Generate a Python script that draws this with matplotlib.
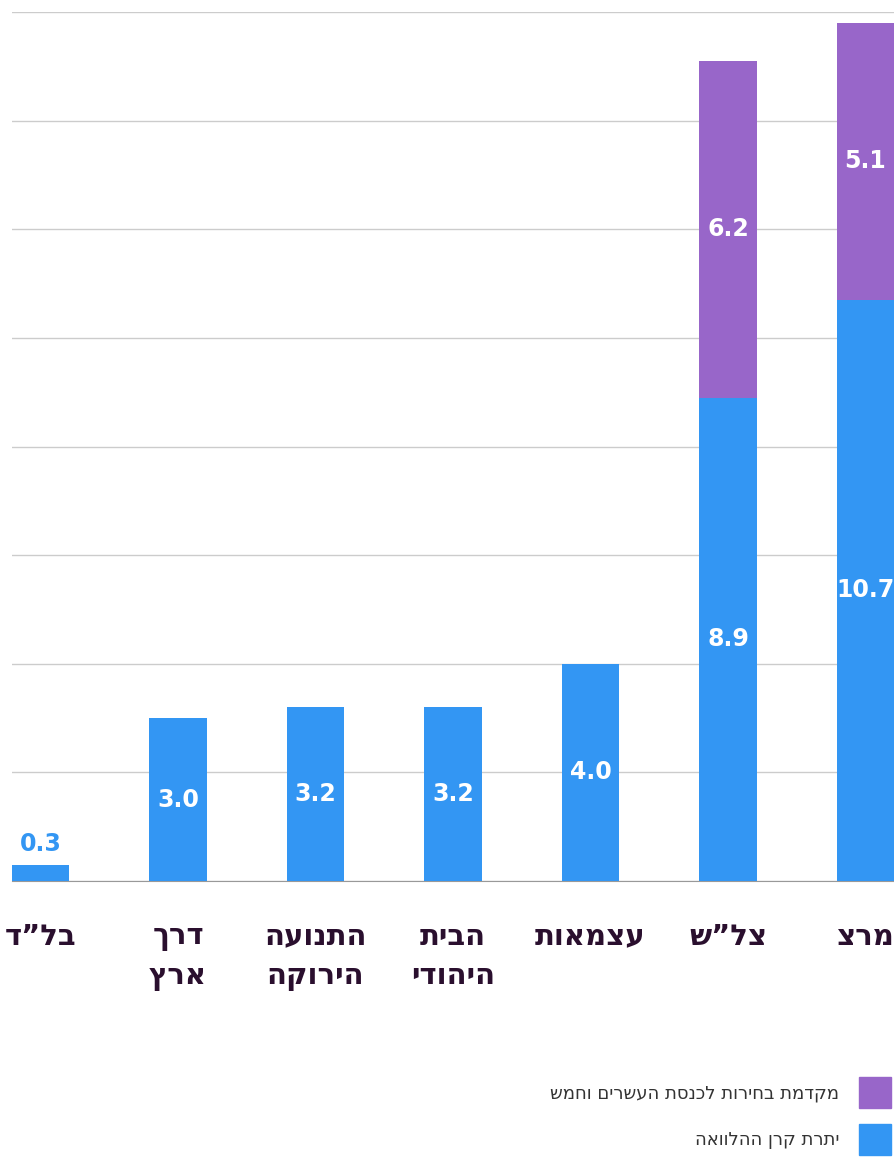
#!/usr/bin/env python3
import matplotlib
matplotlib.use("Agg")
import matplotlib.pyplot as plt
from matplotlib.patches import Patch
import numpy as np

# data (Hebrew, logical order; reversed for display since matplotlib has no bidi)
parties = ["בל”ד", "דרך\nארץ", "התנועה\nהירוקה", "הבית\nהיהודי", "עצמאות", "צל”ש", "מרצ"]
loan_balance = [0.3, 3.0, 3.2, 3.2, 4.0, 8.9, 10.7]
election_advance = [0, 0, 0, 0, 0, 6.2, 5.1]
legend_labels = ["מקדמת בחירות לכנסת העשרים וחמש", "יתרת קרן ההלוואה"]

blue = "#3396f3"
purple = "#9866c9"
dark = "#2a0f2e"


def rtl(s):
    return "\n".join(line[::-1] for line in s.split("\n"))


plt.rcParams['font.family'] = ['DejaVu Sans']

W, H = 894, 1158
fig = plt.figure(figsize=(W / 100, H / 100), dpi=100)
ax = fig.add_axes([12 / W, (H - 881) / H, 882 / W, 869 / H])

x = np.arange(len(parties))
width = 0.415
ax.bar(x, loan_balance, width, color=blue, zorder=3)
ax.bar(x, election_advance, width, bottom=loan_balance, color=purple, zorder=3)

ax.set_xlim(-width / 2, len(parties) - 1 + width / 2)
ax.set_ylim(0, 16)
ax.set_yticks(np.arange(0, 17, 2))
ax.yaxis.grid(True, color="#cccccc", linewidth=1)
ax.set_axisbelow(True)
ax.tick_params(left=False, bottom=False, labelleft=False, labelbottom=False)
for s in ["left", "right", "top"]:
    ax.spines[s].set_visible(False)
ax.spines["bottom"].set_color("#999999")

# value labels
for i, v in enumerate(loan_balance):
    if v < 1:
        ax.annotate(f"{v:.1f}", (x[i], v), xytext=(0, 15), textcoords="offset points",
                    ha="center", va="center", color=blue, fontsize=17, fontweight="bold")
    else:
        ax.text(x[i], v / 2, f"{v:.1f}", ha="center", va="center", color="white",
                fontsize=17, fontweight="bold", zorder=4)
for i, v in enumerate(election_advance):
    if v > 0:
        ax.text(x[i], loan_balance[i] + v / 2, f"{v:.1f}", ha="center", va="center",
                color="white", fontsize=17, fontweight="bold", zorder=4)

# category labels
for i, p in enumerate(parties):
    ax.annotate(rtl(p), (x[i], 0), xytext=(0, -30), textcoords="offset points",
                ha="center", va="top", ma="center", color=dark, fontsize=21,
                fontweight="bold", linespacing=1.5, annotation_clip=False)

handles = [Patch(color=purple), Patch(color=blue)]
fig.legend(handles, [rtl(l) for l in legend_labels], loc="upper right",
           bbox_to_anchor=(891 / W, 1 - 1077 / H), frameon=False, markerfirst=False,
           fontsize=13, handlelength=1.77, handleheight=2.3, handletextpad=1.1,
           labelspacing=0.85, borderaxespad=0, borderpad=0, labelcolor="#333333")

fig.savefig("out.png", dpi=100)
